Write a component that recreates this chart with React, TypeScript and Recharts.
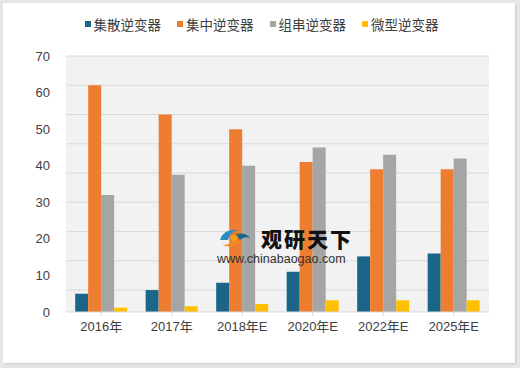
import React from 'react';
import { BarChart, Bar, XAxis, YAxis, CartesianGrid } from 'recharts';

const categories = ['2016年', '2017年', '2018年E', '2020年E', '2022年E', '2025年E'];
const distributed = [5, 6, 8, 11, 15.2, 16];
const central = [62, 54, 50, 41, 39, 39];
const string = [32, 37.5, 40, 45, 43, 42];
const micro = [1.2, 1.6, 2.2, 3.2, 3.2, 3.2];
const yTicks = [0, 10, 20, 30, 40, 50, 60, 70];
const stripeLines = Array.from({ length: 36 }, (_, i) => i * 2);

const series = [
    { key: 'distributed', name: '集散逆变器', color: '#1b6589' },
    { key: 'central', name: '集中逆变器', color: '#ed7d31' },
    { key: 'string', name: '组串逆变器', color: '#a5a5a5' },
    { key: 'micro', name: '微型逆变器', color: '#ffc000' },
];

const data = categories.map((name, i) => ({
    name,
    distributed: distributed[i],
    central: central[i],
    string: string[i],
    micro: micro[i],
}));

const font = '"Liberation Sans", "Noto Sans CJK SC", sans-serif';

function Legend() {
    return (
        <div style={{ position: 'absolute', top: 14, left: 0, width: 520, display: 'flex', justifyContent: 'center', paddingLeft: 19, boxSizing: 'border-box' }}>
            {series.map((s) => (
                <div key={s.key} style={{ display: 'flex', alignItems: 'center', marginRight: 16, fontFamily: '"Noto Sans CJK SC", sans-serif', fontSize: 13.5, color: '#404040' }}>
                    <span style={{ width: 6, height: 6, background: s.color, marginRight: 3, display: 'inline-block' }} />
                    {s.name}
                </div>
            ))}
        </div>
    );
}

export default function App() {
    return (
        <div style={{ position: 'absolute', left: 0, top: 0, width: 520, height: 368, background: '#e6e6e6' }}>
            <div style={{ position: 'absolute', left: 3, top: 3, width: 512, height: 360, background: '#ffffff', boxShadow: '1px 1px 2px rgba(0,0,0,0.12)' }} />
            <div style={{ position: 'absolute', left: 0, top: 0 }}>
                <BarChart width={520} height={368} data={data} margin={{ top: 56, right: 31, left: 0, bottom: 26 }} barCategoryGap="13%" barGap={0}>
                    <CartesianGrid vertical={false} fill="#f2f2f2" stroke="#d9d9d9" horizontalValues={stripeLines} />
                    <XAxis
                        dataKey="name"
                        axisLine={{ stroke: '#d9d9d9' }}
                        tickLine={{ stroke: '#d9d9d9' }}
                        tickSize={4}
                        height={30}
                        interval={0}
                        tick={{ fill: '#404040', fontSize: 13, fontFamily: font }}
                        tickMargin={6}
                    />
                    <YAxis
                        domain={[0, 70]}
                        ticks={yTicks}
                        width={66}
                        axisLine={false}
                        tickLine={false}
                        tickMargin={10}
                        tick={{ fill: '#404040', fontSize: 13, fontFamily: font }}
                    />
                    {series.map((s) => (
                        <Bar key={s.key} dataKey={s.key} name={s.name} fill={s.color} isAnimationActive={false} />
                    ))}
                </BarChart>
            </div>
            <Legend />
            <div style={{ position: 'absolute', left: 216, top: 224, pointerEvents: 'none' }}>
                <svg width={40} height={28} style={{ position: 'absolute', left: 0, top: 0 }}>
                    <path d="M4 16 Q8 4 22 6 Q14 8 12 16 Z" fill="#2b8cc4" />
                    <path d="M6 20 Q14 26 24 18 Q20 14 16 18 Q12 22 6 20 Z" fill="#f08c1e" />
                    <path d="M20 10 Q30 8 34 14 Q28 12 24 16 Z" fill="#1b6589" />
                    <circle cx={18} cy={14} r={3} fill="#f4a21c" />
                </svg>
                <div style={{ position: 'absolute', left: 45, top: 2, fontFamily: '"Noto Sans CJK SC", sans-serif', fontWeight: 900, fontSize: 21, letterSpacing: 2, color: '#111', whiteSpace: 'nowrap', lineHeight: '24px' }}>观研天下</div>
                <div style={{ position: 'absolute', left: 1, top: 28, fontFamily: '"Liberation Sans", sans-serif', fontSize: 12.5, color: '#333', whiteSpace: 'nowrap', lineHeight: '14px' }}>www.chinabaogao.com</div>
            </div>
        </div>
    );
}
